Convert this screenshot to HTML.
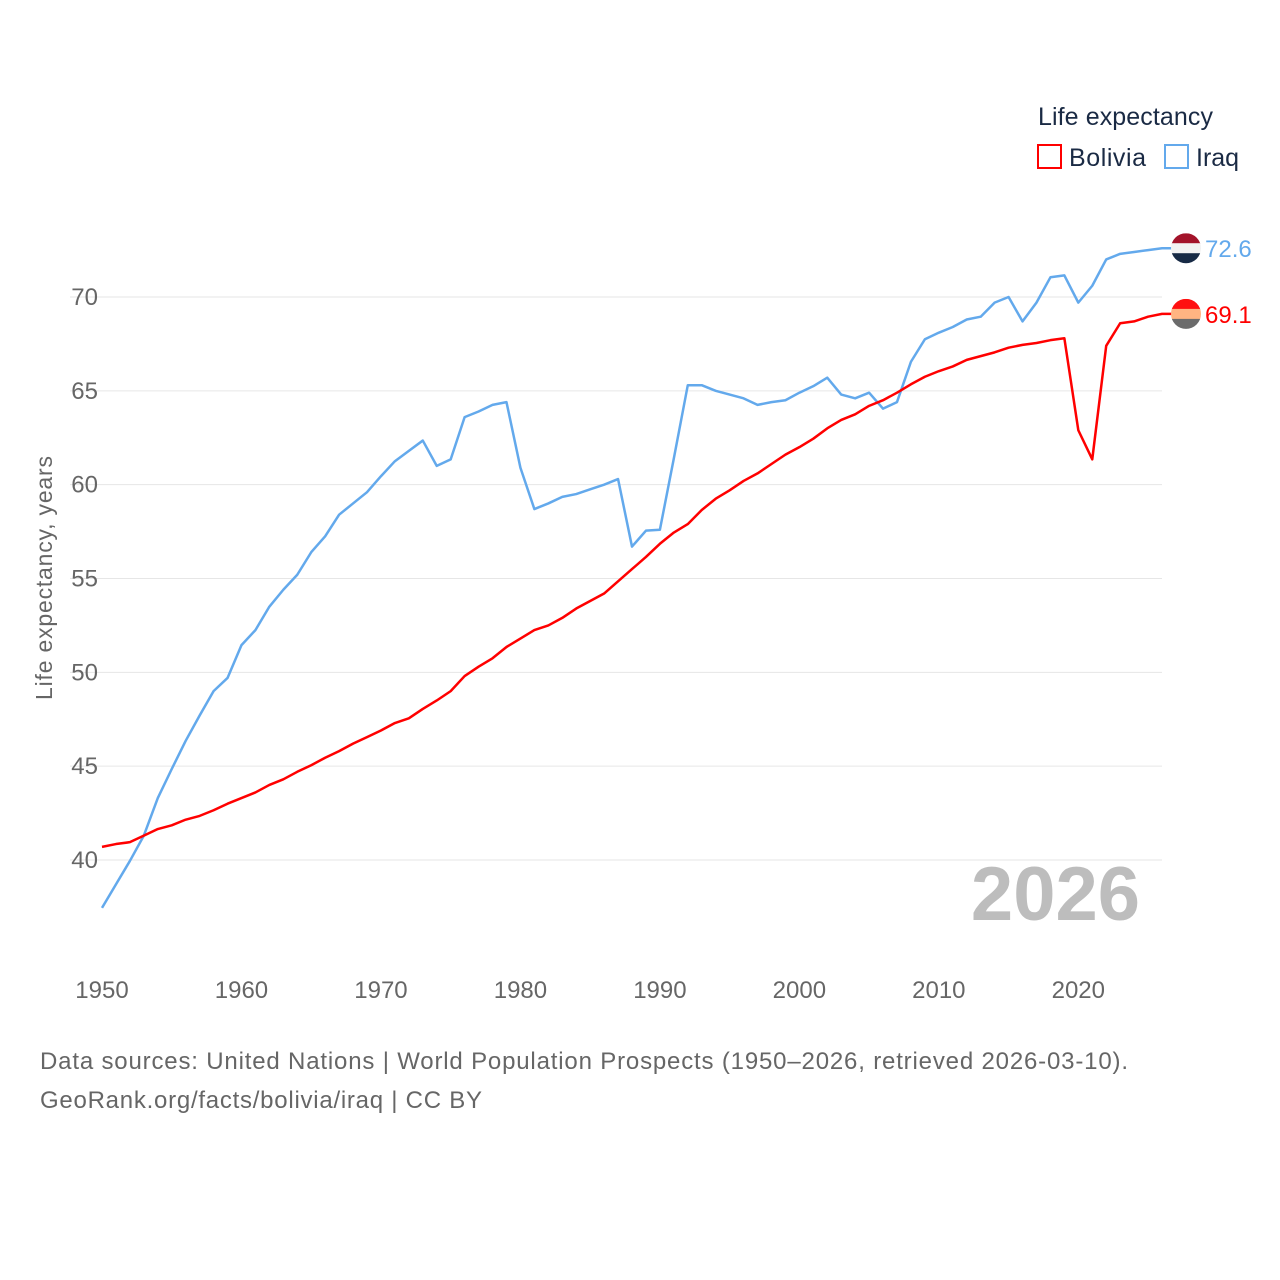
<!DOCTYPE html>
<html><head><meta charset="utf-8"><style>
body{margin:0;background:#fff;}
svg{display:block;font-family:"Liberation Sans",sans-serif;}
</style></head><body>
<svg id="chart" width="1280" height="1280" viewBox="0 0 1280 1280">
<g id="grid"></g>
<g id="xaxis"></g>
<text x="52" y="578" transform="rotate(-90 52 578)" text-anchor="middle" font-size="23" fill="#666" textLength="244">Life expectancy, years</text>
<text x="1140" y="920" text-anchor="end" font-size="76" font-weight="bold" fill="#bdbdbd">2026</text>
<g id="series"></g>
<g>
<text x="1038" y="125" font-size="25" fill="#1a2a44" textLength="175">Life expectancy</text>
<g><rect x="1038" y="145" width="23" height="23" fill="none" stroke="#ff0000" stroke-width="2"/><text x="1069" y="166" font-size="25" fill="#1a2a44" textLength="77">Bolivia</text></g>
<g><rect x="1165" y="145" width="23" height="23" fill="none" stroke="#63a9ec" stroke-width="2"/><text x="1196" y="166" font-size="25" fill="#1a2a44">Iraq</text></g>
</g>
<text x="40" y="1069" font-size="24" fill="#666" textLength="1088">Data sources: United Nations | World Population Prospects (1950–2026, retrieved 2026-03-10).</text>
<text x="40" y="1108" font-size="24" fill="#666" textLength="442">GeoRank.org/facts/bolivia/iraq | CC BY</text>
</svg>
<script>
const years=[];for(let y=1950;y<=2026;y++)years.push(y);
const iraq=[37.45,38.7,39.95,41.3,43.3,44.85,46.35,47.7,49.0,49.7,51.45,52.25,53.5,54.4,55.2,56.4,57.25,58.4,59.0,59.6,60.45,61.25,61.8,62.35,61.0,61.35,63.6,63.9,64.25,64.4,60.9,58.7,59.0,59.35,59.5,59.75,60.0,60.3,56.7,57.55,57.6,61.4,65.3,65.3,65.0,64.8,64.6,64.25,64.4,64.5,64.9,65.25,65.7,64.8,64.6,64.9,64.05,64.4,66.55,67.75,68.1,68.4,68.8,68.95,69.7,70.0,68.7,69.7,71.05,71.15,69.7,70.6,72.0,72.3,72.4,72.5,72.6];
const bolivia=[40.7,40.85,40.95,41.3,41.65,41.85,42.15,42.35,42.65,43.0,43.3,43.6,44.0,44.3,44.7,45.05,45.45,45.8,46.2,46.55,46.9,47.3,47.55,48.05,48.5,49.0,49.8,50.3,50.75,51.35,51.8,52.25,52.5,52.9,53.4,53.8,54.2,54.85,55.5,56.15,56.85,57.45,57.9,58.65,59.25,59.7,60.2,60.6,61.1,61.6,62.0,62.45,63.0,63.45,63.75,64.2,64.5,64.9,65.35,65.75,66.05,66.3,66.65,66.85,67.05,67.3,67.45,67.55,67.7,67.8,62.9,61.35,67.4,68.6,68.7,68.95,69.1];
const yTicks=[40,45,50,55,60,65,70];
const xTicks=[1950,1960,1970,1980,1990,2000,2010,2020];
const NS="http://www.w3.org/2000/svg";
const xs=v=>102+(v-1950)*(1162-102)/76;
const ys=v=>297+(70-v)*(860-297)/30;
function mk(t,a,p){const e=document.createElementNS(NS,t);for(const k in a)e.setAttribute(k,a[k]);p.appendChild(e);return e;}
const grid=document.getElementById('grid');
yTicks.forEach(v=>{
 const l=mk('line',{x1:70,x2:1162,y1:ys(v),y2:ys(v),stroke:'#e6e6e6','stroke-width':1},grid);
 
 
 const t=mk('text',{x:98,y:ys(v)+8,'text-anchor':'end','font-size':24,fill:'#666'},grid);
 t.textContent=v;
 
 
});
const xa=document.getElementById('xaxis');
xTicks.forEach(v=>{
 const t=mk('text',{x:xs(v),y:998,'text-anchor':'middle','font-size':24,fill:'#666'},xa);
 t.textContent=v;
 
 
});
const sg=document.getElementById('series');
function line(data,color,name){
 const pts=data.map((v,i)=>xs(years[i])+','+ys(v));
 pts.push('1172,'+ys(data[data.length-1]));
 const p=mk('polyline',{points:pts.join(' '),fill:'none',stroke:color,'stroke-width':2.5,'stroke-linejoin':'round'},sg);
 
 
 const last=data[data.length-1];
 const t=mk('text',{x:1205,y:ys(last)+9,'font-size':24,fill:color},sg);
 t.textContent=last.toFixed(1);
 
 
 return ys(last);
}
const yi=line(iraq,'#63a9ec','iraq');
const yb=line(bolivia,'#ff0000','bolivia');
function flag(cy,cols,name){
 const g=mk('g',{},sg);
 
 
 const id='c'+name;
 const cp=mk('clipPath',{id:id},g);mk('circle',{cx:1186,cy:cy,r:15},cp);
 const gg=mk('g',{'clip-path':'url(#'+id+')'},g);
 cols.forEach((c,i)=>mk('rect',{x:1171,y:cy-15+i*10,width:30,height:10.5,fill:c},gg));
}
flag(yi,['#a3132a','#f2f2f2','#172a45'],'iraq');
flag(yb,['#ff1010','#ffb482','#6b6b6b'],'bolivia');
</script>
</body></html>
